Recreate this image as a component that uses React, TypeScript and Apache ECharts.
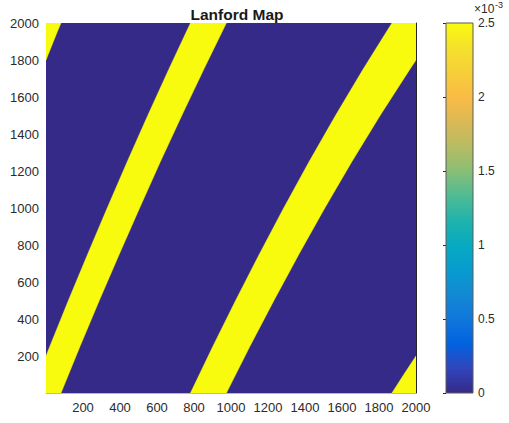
import React, { useEffect, useRef } from "react";
import * as echarts from "echarts";

// ---- Data (map index coordinates, 0..2000) ----
const titleText = "Lanford Map";
const xTicks = [200, 400, 600, 800, 1000, 1200, 1400, 1600, 1800, 2000];
const yTicks = [200, 400, 600, 800, 1000, 1200, 1400, 1600, 1800, 2000];
const axisMin = 0;
const axisMax = 2000;

// Row levels at which band edges were read
const bandRows = [0, 250, 500, 750, 1000, 1250, 1500, 1750, 2000];

// Left band (from bottom-left to top middle)
const bandALeftRows = [200, 250, 500, 750, 1000, 1250, 1500, 1750, 2000];
const bandALeftX = [0, 20, 121, 225, 331, 439, 550, 664, 781];
const bandARightX = [81, 183, 288, 396, 506, 618, 734, 853, 975];

// Right band (from bottom middle to top right)
const bandBLeftX = [781, 901, 1025, 1153, 1285, 1422, 1565, 1714, 1870];
const bandBRightRows = [0, 250, 500, 750, 1000, 1250, 1500, 1750, 1800];
const bandBRightX = [975, 1101, 1232, 1367, 1507, 1653, 1806, 1967, 2000];

// Top-left corner wedge
const cornerTLRows = [1800, 1850, 1900, 1950, 2000];
const cornerTLX = [0, 20, 40, 60, 81];

// Bottom-right corner wedge
const cornerBRRows = [0, 50, 100, 150, 200];
const cornerBRX = [1870, 1902, 1934, 1967, 2000];

// Colour bar (values ×10^-3)
const cbarMin = 0;
const cbarMax = 2.5;
const cbarTickStep = 0.5;
const bandValue = 2.5; // yellow cells
const bgValue = 0; // dark cells

// parula colormap samples (style)
const parula = [
  "#352A87", "#3145BC", "#0262E0", "#0F77DB", "#1389D3", "#079CCF",
  "#07AAC1", "#20B3AB", "#50BB94", "#8ABE76", "#B7BC63", "#DBB955",
  "#FABB45", "#F6CF39", "#F5E12C", "#F9FB0E",
];

const FONT = "'Liberation Sans', Arial, Helvetica, sans-serif";
const TXT = "#2b2b2b";

function colorFor(v: number): string {
  const t = (v - cbarMin) / (cbarMax - cbarMin);
  const i = Math.round(t * (parula.length - 1));
  return parula[Math.max(0, Math.min(parula.length - 1, i))];
}

function buildPolygons(): number[][][] {
  const polys: number[][][] = [];
  const a: number[][] = [];
  a.push([axisMin, axisMin]);
  bandALeftRows.forEach((r, i) => a.push([bandALeftX[i], r]));
  for (let i = bandRows.length - 1; i >= 0; i--) a.push([bandARightX[i], bandRows[i]]);
  polys.push(a);
  const b: number[][] = [];
  bandRows.forEach((r, i) => b.push([bandBLeftX[i], r]));
  b.push([axisMax, axisMax]);
  for (let i = bandBRightRows.length - 1; i >= 0; i--) b.push([bandBRightX[i], bandBRightRows[i]]);
  polys.push(b);
  const c: number[][] = [[axisMin, axisMax]];
  cornerTLRows.forEach((r, i) => c.push([cornerTLX[i], r]));
  polys.push(c);
  const d: number[][] = [[axisMax, axisMin]];
  for (let i = cornerBRRows.length - 1; i >= 0; i--) d.push([cornerBRX[i], cornerBRRows[i]]);
  polys.push(d);
  return polys;
}

export default function App() {
  const ref = useRef<HTMLDivElement>(null);

  useEffect(() => {
    if (!ref.current) return;
    const chart = echarts.init(ref.current, null, { renderer: "svg" });
    const polygons = buildPolygons();

    const cbarStops = parula.map((c, i) => ({ offset: i / (parula.length - 1), color: c }));

    const option: any = {
      animation: false,
      backgroundColor: "#ffffff",
      title: {
        text: titleText,
        left: 232,
        top: 1,
        textAlign: "center",
        textStyle: { fontFamily: FONT, fontSize: 15.5, fontWeight: "bold", color: "#1a1a1a" },
      },
      graphic: [
        {
          type: "text",
          left: 474,
          top: 3,
          style: { text: "×10", font: `12px ${FONT}`, lineHeight: 12, fill: TXT },
        },
        {
          type: "text",
          left: 495,
          top: 0,
          style: { text: "-3", font: `9px ${FONT}`, lineHeight: 9, fill: TXT },
        },
      ],
      grid: [
        {
          left: 46,
          top: 23,
          width: 370,
          height: 370,
          show: true,
          backgroundColor: colorFor(bgValue),
          borderWidth: 0,
        },
        { left: 446, top: 23, width: 27, height: 370, show: false },
      ],
      xAxis: [
        {
          gridIndex: 0,
          type: "value",
          min: axisMin,
          max: axisMax,
          interval: 200,
          axisLine: { show: true, onZero: false, lineStyle: { color: "#b8b8b8", width: 1 } },
          axisTick: { show: false },
          splitLine: { show: false },
          axisLabel: {
            margin: 8,
            fontFamily: FONT,
            fontSize: 13,
            color: TXT,
            formatter: (v: number) => (xTicks.includes(v) ? String(v) : ""),
          },
        },
        { gridIndex: 1, type: "value", min: 0, max: 1, show: false },
      ],
      yAxis: [
        {
          gridIndex: 0,
          type: "value",
          min: axisMin,
          max: axisMax,
          interval: 200,
          axisLine: { show: false },
          axisTick: { show: false },
          splitLine: { show: false },
          axisLabel: {
            margin: 7,
            fontFamily: FONT,
            fontSize: 13,
            color: TXT,
            formatter: (v: number) => (yTicks.includes(v) ? String(v) : ""),
          },
        },
        {
          gridIndex: 0,
          type: "value",
          position: "right",
          min: axisMin,
          max: axisMax,
          interval: 200,
          axisLine: { show: true, onZero: false, lineStyle: { color: "#262626", width: 1 } },
          axisTick: { show: false },
          axisLabel: { show: false },
          splitLine: { show: false },
        },
        {
          gridIndex: 1,
          type: "value",
          position: "right",
          min: cbarMin,
          max: cbarMax,
          interval: cbarTickStep,
          axisLine: { show: false },
          axisTick: { show: true, inside: true, length: 3, lineStyle: { color: "#262626" } },
          splitLine: { show: false },
          axisLabel: { margin: 5, fontFamily: FONT, fontSize: 12, lineHeight: 12, color: TXT },
        },
      ],
      series: [
        {
          type: "custom",
          xAxisIndex: 0,
          yAxisIndex: 0,
          clip: true,
          data: polygons.map((p) => [p[0][0], p[0][1]]),
          renderItem: (params: any, api: any) => {
            const poly = polygons[params.dataIndex];
            return {
              type: "polygon",
              shape: { points: poly.map((p) => api.coord(p)) },
              style: { fill: colorFor(bandValue), stroke: colorFor(bandValue), lineWidth: 0.5 },
            };
          },
        },
        {
          type: "custom",
          xAxisIndex: 1,
          yAxisIndex: 2,
          data: [[0, cbarMin, 1, cbarMax]],
          renderItem: (params: any, api: any) => {
            const p0 = api.coord([api.value(0), api.value(1)]);
            const p1 = api.coord([api.value(2), api.value(3)]);
            return {
              type: "rect",
              shape: { x: p0[0], y: p1[1], width: p1[0] - p0[0], height: p0[1] - p1[1] },
              style: {
                fill: new echarts.graphic.LinearGradient(0, 1, 0, 0, cbarStops),
                stroke: "#5a5a5a",
                lineWidth: 1,
              },
            };
          },
          z: 1,
        },
      ],
    };
    chart.setOption(option);
    return () => chart.dispose();
  }, []);

  return (
    <div
      ref={ref}
      style={{ position: "fixed", left: 0, top: 0, width: 509, height: 423 }}
    />
  );
}
